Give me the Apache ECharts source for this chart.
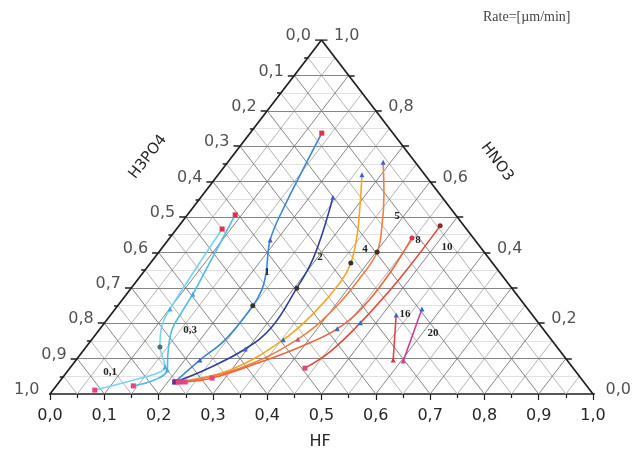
<!DOCTYPE html>
<html>
<head>
<meta charset="UTF-8">
<title>Ternary etch rate</title>
<script src="https://cdn.jsdelivr.net/npm/echarts/dist/echarts.min.js"></script>
<style>
  body { margin: 0; background: #fff; }
  #chart { width: 639px; height: 456px; }
</style>
</head>
<body>
<div id="chart"></div>
<script>
// compositions as [HF, HNO3]; H3PO4 = 1 - HF - HNO3
const curve01 = [[0.077,0.011],[0.129,0.037],[0.169,0.059],[0.174,0.076],[0.151,0.110],[0.136,0.133],[0.109,0.195],[0.101,0.240],[0.095,0.308],[0.090,0.373],[0.084,0.466]];
const curve03 = [[0.142,0.023],[0.173,0.040],[0.182,0.068],[0.162,0.110],[0.134,0.181],[0.127,0.232],[0.122,0.282],[0.110,0.362],[0.088,0.506]];
const curve1  = [[0.213,0.034],[0.228,0.096],[0.246,0.153],[0.249,0.249],[0.243,0.294],[0.227,0.342],[0.188,0.435],[0.166,0.534],[0.149,0.633],[0.132,0.737]];
const curve2  = [[0.213,0.034],[0.251,0.068],[0.296,0.127],[0.314,0.189],[0.305,0.299],[0.297,0.364],[0.280,0.435],[0.259,0.506],[0.243,0.556]];
const curve4  = [[0.219,0.034],[0.298,0.068],[0.353,0.153],[0.372,0.232],[0.377,0.314],[0.369,0.370],[0.341,0.449],[0.304,0.534],[0.265,0.619]];
const curve5  = [[0.224,0.034],[0.313,0.073],[0.379,0.155],[0.403,0.243],[0.407,0.336],[0.402,0.401],[0.373,0.477],[0.334,0.562],[0.286,0.655]];
const curve8  = [[0.232,0.034],[0.276,0.045],[0.342,0.090],[0.394,0.133],[0.437,0.184],[0.454,0.251],[0.455,0.342],[0.446,0.441]];
const curve10 = [[0.433,0.073],[0.456,0.119],[0.471,0.201],[0.481,0.328],[0.481,0.475]];
const curve16 = [[0.584,0.096],[0.526,0.223]];
const curve20 = [[0.604,0.093],[0.565,0.240]];

const rateLabels = ['0,1', '0,3', '1', '2', '4', '5', '8', '10', '16', '20'];
const hfTicks = [0, 0.1, 0.2, 0.3, 0.4, 0.5, 0.6, 0.7, 0.8, 0.9, 1.0];
const h3po4Ticks = [0, 0.1, 0.2, 0.3, 0.4, 0.5, 0.6, 0.7, 0.8, 0.9, 1.0];
const hno3Ticks = [0, 0.2, 0.4, 0.6, 0.8, 1.0];

const PINK = '#e2457a', PURPLE = '#6b2c92', BLUE = '#3b63cf', CYAN = '#45a9e0', BLACK = '#333', RED = '#e0304a';

const curves = [
  { data: curve01, color: '#78d3f0', marks: {0:['rect',PINK],3:['triangle',CYAN],5:['circle','#666'],7:['triangle',CYAN],10:['rect',RED]} },
  { data: curve03, color: '#50bbe8', marks: {0:['rect',PINK],2:['triangle',CYAN],6:['triangle',CYAN],8:['rect',RED]} },
  { data: curve1,  color: '#3a86d8', marks: {0:['rect',PURPLE],1:['triangle',BLUE],3:['circle',BLACK],6:['triangle',BLUE],9:['rect',RED]} },
  { data: curve2,  color: '#2e3f9c', marks: {0:['rect',PURPLE],2:['triangle',BLUE],4:['circle',BLACK],8:['triangle',BLUE]} },
  { data: curve4,  color: '#f5a623', marks: {0:['rect',PINK],2:['triangle',BLUE],5:['circle',BLACK],8:['triangle',BLUE]} },
  { data: curve5,  color: '#f07f45', marks: {0:['rect',PINK],2:['triangle',PINK],5:['circle',BLACK],8:['triangle',BLUE]} },
  { data: curve8,  color: '#ec653b', marks: {0:['rect',PINK],1:['rect',PINK],4:['triangle',BLUE],7:['circle',RED]} },
  { data: curve10, color: '#e24a3c', marks: {0:['rect',PINK],2:['triangle',BLUE],4:['circle','#8a2a2a']} },
  { data: curve16, color: '#e04650', marks: {0:['triangle',RED],1:['triangle',BLUE]} },
  { data: curve20, color: '#d03a90', marks: {0:['triangle','#d03a90'],1:['triangle',BLUE]} }
];

// ternary -> plane (x = HF + HNO3/2, y = HNO3)
const toXY = p => [p[0] + p[1] / 2, p[1]];
const fmt = v => v.toFixed(1).replace('.', ',');

function horizSegs(vals) {
  return vals.map(v => ({ coords: [[v / 2, v], [1 - v / 2, v]] }));            // HNO3 const
}
function diagSegs(vals) {
  const segs = [];
  vals.forEach(v => {
    segs.push({ coords: [[v, 0], [v + (1 - v) / 2, 1 - v]] });      // HF const
    segs.push({ coords: [[1 - v, 0], [(1 - v) / 2, 1 - v]] });      // H3PO4 const
  });
  return segs;
}
const majorVals = [0.1,0.2,0.3,0.4,0.5,0.6,0.7,0.8,0.9];
const minorVals = [0.05,0.15,0.25,0.35,0.45,0.55,0.65,0.75,0.85,0.95];

const tickSegs = [];
h3po4Ticks.forEach(b => {
  const y = 1 - b, x = y / 2;
  tickSegs.push({ coords: [[x, y], [x - 0.012, y]] });
});
minorVals.forEach(b => {
  const y = 1 - b, x = y / 2;
  tickSegs.push({ coords: [[x, y], [x - 0.007, y]] });
});
[0,0.1,0.2,0.3,0.4,0.5,0.6,0.7,0.8,0.9,1].forEach(c => {
  const x = 1 - c / 2;
  tickSegs.push({ coords: [[x, c], [x + 0.011, c]] });
});

const series = [
  { type: 'lines', coordinateSystem: 'cartesian2d', silent: true, z: 1,
    lineStyle: { color: '#dadada', width: 0.8, opacity: 1 }, data: horizSegs(minorVals) },
  { type: 'lines', coordinateSystem: 'cartesian2d', silent: true, z: 1,
    lineStyle: { color: '#acacac', width: 0.9, opacity: 1 }, data: diagSegs(minorVals) },
  { type: 'lines', coordinateSystem: 'cartesian2d', silent: true, z: 2,
    lineStyle: { color: '#777', width: 0.9, opacity: 1 }, data: diagSegs(majorVals).concat(horizSegs(majorVals)) },
  { type: 'lines', coordinateSystem: 'cartesian2d', silent: true, z: 3,
    lineStyle: { color: '#1e1e1e', width: 1.7, opacity: 1 },
    data: [{ coords: [[0, 0], [0.5, 1]] }, { coords: [[1, 0], [0.5, 1]] }].concat(tickSegs) }
];

curves.forEach(c => {
  series.push({
    type: 'line', smooth: 0.4, z: 5, silent: true,
    lineStyle: { color: c.color, width: 1.6 },
    itemStyle: { color: c.color },
    data: c.data.map((p, i) => {
      const m = c.marks[i];
      return m ? { value: toXY(p), symbol: m[0], symbolSize: 5, itemStyle: { color: m[1] } }
               : { value: toXY(p), symbol: 'none' };
    })
  });
});

const tickFont = { fontFamily: 'DejaVu Sans', fontSize: 16, color: '#262626' };

series.push({
  type: 'scatter', symbolSize: 1, itemStyle: { color: 'rgba(0,0,0,0)' }, silent: true, z: 6,
  data: h3po4Ticks.map(b => ({ value: [(1 - b) / 2, 1 - b], name: fmt(b) })),
  label: { show: true, position: 'left', distance: 10, offset: [0, -4], formatter: p => p.name, ...tickFont }
});
series.push({
  type: 'scatter', symbolSize: 1, itemStyle: { color: 'rgba(0,0,0,0)' }, silent: true, z: 6,
  data: hno3Ticks.map(c => ({ value: [1 - c / 2, c], name: fmt(c) })),
  label: { show: true, position: 'right', distance: 12, offset: [0, -4], formatter: p => p.name, ...tickFont }
});

const annPos = [[110,372],[190,330],[267,272],[320,257],[365,249],[397,216],[418,240],[447,247],[405,314],[433,333]];

const option = {
  animation: false,
  grid: { left: 50, right: 46, top: 40, bottom: 62 },
  xAxis: {
    type: 'value', min: 0, max: 1, interval: 0.1,
    axisLine: { lineStyle: { color: '#1e1e1e', width: 1.7 } },
    axisTick: { length: 6, lineStyle: { color: '#1e1e1e', width: 1.2 } },
    minorTick: { show: true, splitNumber: 2, length: 4, lineStyle: { color: '#1e1e1e', width: 1.2 } },
    splitLine: { show: false },
    axisLabel: { margin: 14, formatter: v => hfTicks.includes(Math.round(v * 10) / 10) ? fmt(v) : '', ...tickFont }
  },
  yAxis: { type: 'value', min: 0, max: 1, show: false },
  graphic: [
    { type: 'text', x: 148, y: 157, rotation: 52 * Math.PI / 180,
      style: { text: 'H3PO4', font: '15px "DejaVu Sans"', fill: '#262626', align: 'center', verticalAlign: 'middle' } },
    { type: 'text', x: 497, y: 162, rotation: -53 * Math.PI / 180,
      style: { text: 'HNO3', font: '15px "DejaVu Sans"', fill: '#262626', align: 'center', verticalAlign: 'middle' } },
    { type: 'text', x: 320, y: 442,
      style: { text: 'HF', font: '16px "DejaVu Sans"', fill: '#262626', align: 'center', verticalAlign: 'middle' } },
    { type: 'text', x: 483, y: 17,
      style: { text: 'Rate=[µm/min]', font: '14px "Liberation Serif"', fill: '#444', align: 'left', verticalAlign: 'middle' } }
  ].concat(rateLabels.map((t, i) => ({
    type: 'text', x: annPos[i][0], y: annPos[i][1], z: 10,
    style: { text: t, font: 'bold 11px "Liberation Serif"', fill: '#222', align: 'center', verticalAlign: 'middle' }
  }))),
  series: series
};

const chart = echarts.init(document.getElementById('chart'));
chart.setOption(option);
</script>
</body>
</html>
